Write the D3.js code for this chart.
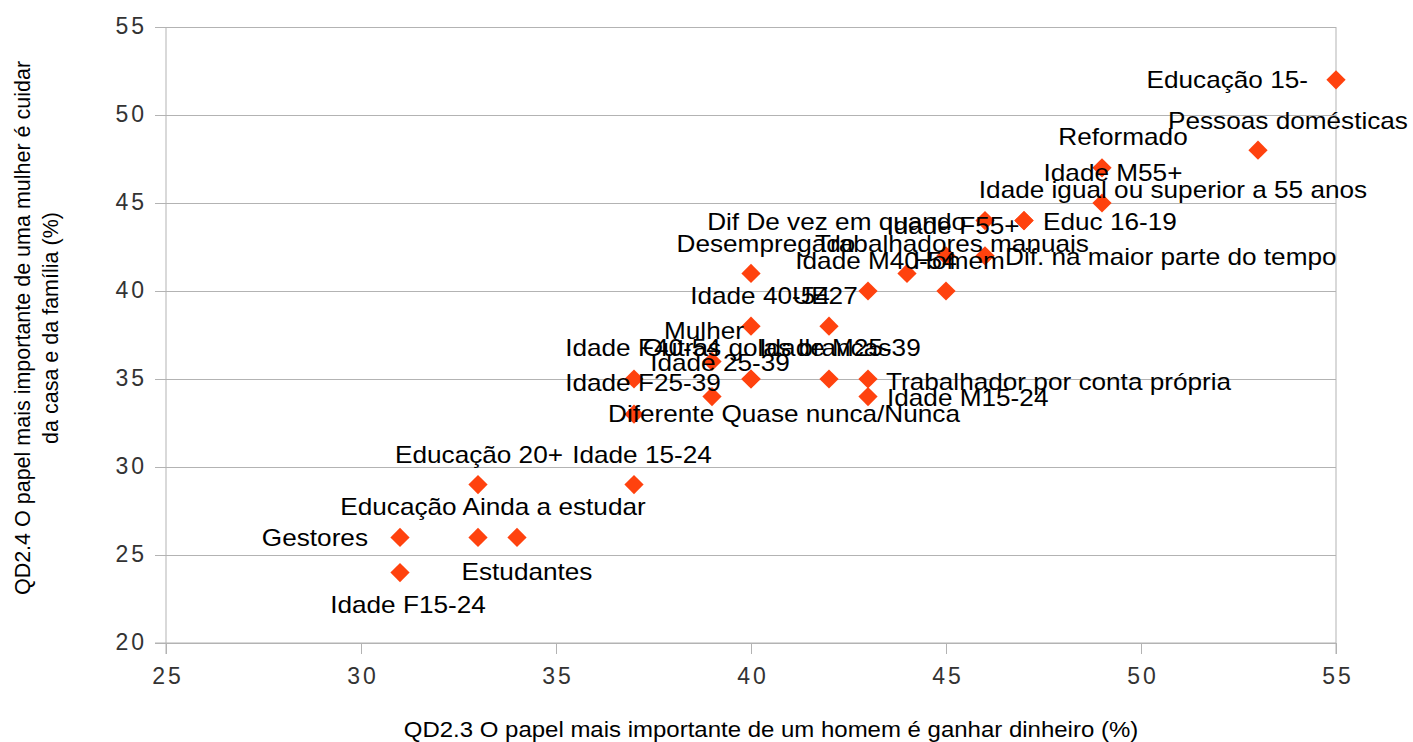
<!DOCTYPE html>
<html>
<head>
<meta charset="utf-8">
<script src="https://cdn.jsdelivr.net/npm/d3@7"></script>
<style>
  html, body { margin: 0; padding: 0; background: #ffffff; }
  svg { display: block; font-family: "Liberation Sans", Arial, sans-serif; }
</style>
</head>
<body>
<svg id="chart" width="1413" height="742"></svg>
<script>
// ---- data ----
const labels = [
  "Educação 15-", "Pessoas domésticas", "Reformado", "Idade M55+",
  "Educ 16-19", "Idade igual ou superior a 55 anos", "Dif De vez em quando",
  "Idade F55+", "Dif. na maior parte do tempo", "Trabalhadores manuais",
  "Idade M40-54", "Homem", "Desempregado", "Idade 40-54", "UE27", "Mulher",
  "Idade F40-54", "Outras golas brancas", "Diferente Quase nunca/Nunca",
  "Idade M25-39", "Trabalhador por conta própria", "Idade M15-24",
  "Idade 25-39", "Idade F25-39", "Educação 20+", "Idade 15-24", "Gestores",
  "Educação Ainda a estudar", "Estudantes", "Idade F15-24"
];
const xValues = [55, 53, 49, 49, 47, 47, 46, 45, 46, 44, 43, 45, 40, 40, 42, 39,
                 37, 40, 40, 42, 43, 43, 39, 37, 33, 37, 31, 33, 34, 31];
const yValues = [52, 48, 47, 45, 44, 44, 44, 42, 42, 41, 40, 40, 41, 38, 38, 36,
                 35, 35, 35, 35, 35, 34, 34, 33, 29, 29, 26, 26, 26, 24];
const xTicks = [25, 30, 35, 40, 45, 50, 55];
const yTicks = [20, 25, 30, 35, 40, 45, 50, 55];
const xTitle = "QD2.3 O papel mais importante de um homem é ganhar dinheiro (%)";
const yTitleLines = ["QD2.4 O papel mais importante de uma mulher é cuidar",
                     "da casa e da família (%)"];

// ---- label placement (layout only): [anchor, dx, dy] relative to marker ----
const labelPlacement = [
  ["end", -28, 0], ["middle", 30, -30], ["middle", 21, -31], ["middle", 11, -31],
  ["start", 19, 1], ["middle", 149, -31], ["end", -19, 1],
  ["middle", 7, -30], ["start", 20, 1], ["middle", 45, -30],
  ["middle", 8, -31], ["middle", 13, -31], ["middle", 15, -30], ["middle", 9, -31],
  ["middle", -4, -31], ["middle", -8, -31],
  ["middle", 9, -32], ["middle", 16, -32], ["middle", 33, 34],
  ["middle", 11, -32], ["start", 18, 2], ["start", 19, 1],
  ["middle", 8, -34], ["middle", 9, -32], ["middle", 1, -30], ["middle", 8, -30],
  ["end", -32, 0], ["middle", 15, -31], ["middle", 10, 34], ["middle", 8, 32]
];

// ---- layout ----
const plotLeft = 166, plotRight = 1336, plotTop = 27, plotBottom = 643;
const gridColor = "#b3b3b3";
const markerColor = "#FF420E";
const stretch = 1.09;

const svg = d3.select("#chart");
const x = d3.scaleLinear().domain([25, 55]).range([plotLeft, plotRight]);
const y = d3.scaleLinear().domain([20, 55]).range([plotBottom, plotTop]);

function widen(sel) {
  sel.each(function () {
    const len = this.getComputedTextLength();
    d3.select(this).attr("textLength", len * stretch).attr("lengthAdjust", "spacingAndGlyphs");
  });
}

// y grid + ticks
const gy = svg.append("g")
  .attr("transform", `translate(${plotLeft - 11},0)`)
  .call(d3.axisLeft(y).tickValues(yTicks).tickSize(-(plotRight - plotLeft + 11)).tickPadding(8));
gy.select(".domain").remove();
gy.selectAll(".tick line").attr("stroke", gridColor).attr("stroke-width", 1);
gy.selectAll(".tick text")
  .attr("font-family", "'Liberation Sans', Arial, sans-serif")
  .attr("font-size", 23).attr("fill", "#333").attr("letter-spacing", 3)
  .attr("dy", "0.3em");

// x ticks
const gx = svg.append("g")
  .attr("transform", `translate(0,${plotBottom})`)
  .call(d3.axisBottom(x).tickValues(xTicks).tickSize(11).tickPadding(14));
gx.select(".domain").remove();
gx.selectAll(".tick line").attr("stroke", gridColor).attr("stroke-width", 1);
gx.selectAll(".tick text")
  .attr("font-family", "'Liberation Sans', Arial, sans-serif")
  .attr("font-size", 23).attr("fill", "#333").attr("letter-spacing", 3)
  .attr("dx", 1.5);

// axis lines
svg.append("line").attr("x1", plotLeft).attr("x2", plotLeft).attr("y1", plotTop).attr("y2", plotBottom + 11)
  .attr("stroke", gridColor);
svg.append("line").attr("x1", plotRight).attr("x2", plotRight).attr("y1", plotTop).attr("y2", plotBottom + 11)
  .attr("stroke", gridColor);
svg.append("line").attr("x1", plotLeft - 11).attr("x2", plotRight).attr("y1", plotBottom).attr("y2", plotBottom)
  .attr("stroke", gridColor);

// markers
const idx = d3.range(labels.length);
svg.append("g").selectAll("path").data(idx).join("path")
  .attr("d", d3.symbol().type(d3.symbolSquare).size(185))
  .attr("transform", i => `translate(${x(xValues[i])},${y(yValues[i])}) rotate(45)`)
  .attr("fill", markerColor);

// labels
svg.append("g").selectAll("text").data(idx).join("text")
  .attr("x", i => x(xValues[i]) + labelPlacement[i][1])
  .attr("y", i => y(yValues[i]) + labelPlacement[i][2])
  .attr("dy", "0.36em")
  .attr("text-anchor", i => labelPlacement[i][0])
  .attr("font-size", 24)
  .attr("fill", "#000")
  .text(i => labels[i])
  .call(widen);

// axis titles
svg.append("text")
  .attr("x", 771).attr("y", 737)
  .attr("text-anchor", "middle").attr("font-size", 22).attr("fill", "#000")
  .text(xTitle).call(widen);

const yt = svg.append("g").attr("transform", "translate(0,328) rotate(-90)");
yt.selectAll("text").data(yTitleLines).join("text")
  .attr("x", 0).attr("y", (d, i) => 30 + i * 28)
  .attr("text-anchor", "middle").attr("font-size", 21.5).attr("fill", "#000")
  .text(d => d);
</script>
</body>
</html>
